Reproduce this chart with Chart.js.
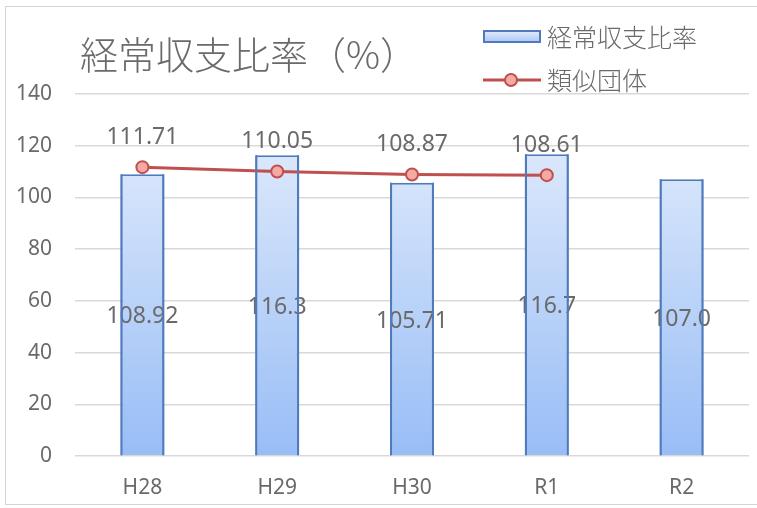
<!DOCTYPE html>
<html>
<head>
  <meta charset="utf-8">
  <script src="https://cdn.jsdelivr.net/npm/chart.js"></script>
  <style>
    html, body { margin: 0; padding: 0; background: #fff; }
    #wrap { position: relative; width: 757px; height: 508px; }
  </style>
</head>
<body>
<div id="wrap"><canvas id="ratioChart"></canvas></div>
<script>
const categories = ['H28', 'H29', 'H30', 'R1', 'R2'];
const ratioValues = [108.92, 116.3, 105.71, 116.7, 107.0];
const ratioText = ['108.92', '116.3', '105.71', '116.7', '107.0'];
const similarValues = [111.71, 110.05, 108.87, 108.61, null];
const yTicks = [0, 20, 40, 60, 80, 100, 120, 140];

const TEXT = '#6a6a6a';
const BAR_EDGE = '#4f7bbd';
const NUM_FONT = '"Noto Sans", "Open Sans", sans-serif';
const JP_FONT = '"Noto Sans CJK JP", sans-serif';

// title, legend, frame and value labels
const decorPlugin = {
  id: 'decor',
  afterDatasetsDraw(chart) {
    const c = chart.ctx;
    const bars = chart.getDatasetMeta(0).data;
    const pts = chart.getDatasetMeta(1).data;
    c.save();
    c.fillStyle = TEXT;
    c.font = '23px ' + NUM_FONT;
    c.textAlign = 'center';
    c.textBaseline = 'middle';
    // bar labels sit in the middle of each bar, side edges stay on top
    bars.forEach((bar, i) => {
      c.fillText(ratioText[i], bar.x, (bar.y + bar.base) / 2 + 2);
    });
    c.strokeStyle = BAR_EDGE;
    c.lineWidth = 2;
    bars.forEach(bar => {
      const h = bar.width / 2 - 1;
      c.beginPath();
      c.moveTo(bar.x - h, bar.y);
      c.lineTo(bar.x - h, bar.base);
      c.moveTo(bar.x + h, bar.y);
      c.lineTo(bar.x + h, bar.base);
      c.stroke();
    });
    pts.forEach((pt, i) => {
      if (similarValues[i] == null) return;
      c.fillText(similarValues[i].toFixed(2), pt.x, pt.y - 30);
    });
    c.restore();
  },
  afterDraw(chart) {
    const c = chart.ctx;
    c.save();
    // frame
    c.strokeStyle = '#d4d4d4';
    c.lineWidth = 1;
    c.strokeRect(5.5, 6.5, 760, 498);

    // title
    c.fillStyle = TEXT;
    c.font = '300 38px ' + JP_FONT;
    c.textAlign = 'left';
    c.textBaseline = 'middle';
    c.fillText('経常収支比率（%）', 80, 55);

    // legend: bars
    const g = c.createLinearGradient(0, 31, 0, 42);
    g.addColorStop(0, '#e2ecfb');
    g.addColorStop(1, '#a9c7f5');
    c.fillStyle = g;
    c.fillRect(484, 31, 56, 11);
    c.strokeStyle = BAR_EDGE;
    c.lineWidth = 2;
    c.strokeRect(484, 31, 56, 11);

    // legend: line
    c.strokeStyle = '#c0504d';
    c.lineWidth = 3;
    c.beginPath();
    c.moveTo(483, 80);
    c.lineTo(541, 80);
    c.stroke();
    c.beginPath();
    c.arc(511, 80, 6, 0, Math.PI * 2);
    c.fillStyle = '#f4aaa4';
    c.fill();
    c.lineWidth = 2;
    c.stroke();

    c.fillStyle = TEXT;
    c.font = '300 25px ' + JP_FONT;
    c.fillText('経常収支比率', 547, 37);
    c.fillText('類似団体', 547, 80);
    c.restore();
  }
};

function barFill(context) {
  const area = context.chart.chartArea;
  if (!area) return '#bcd4f8';
  const g = context.chart.ctx.createLinearGradient(0, area.top, 0, area.bottom);
  g.addColorStop(0, '#e8f0fc');
  g.addColorStop(1, '#98bdf6');
  return g;
}

const chart = new Chart(document.getElementById('ratioChart'), {
  data: {
    labels: categories,
    datasets: [{
      type: 'bar',
      label: '経常収支比率',
      data: ratioValues,
      backgroundColor: barFill,
      borderColor: BAR_EDGE,
      borderWidth: 2,
      borderSkipped: 'bottom',
      categoryPercentage: 1,
      barPercentage: 0.325,
      order: 1
    }, {
      type: 'line',
      label: '類似団体',
      data: similarValues,
      borderColor: '#c0504d',
      borderWidth: 3,
      pointRadius: 6,
      pointBorderWidth: 2,
      pointBackgroundColor: '#f4aaa4',
      pointBorderColor: '#c0504d',
      tension: 0,
      spanGaps: false,
      order: 0
    }]
  },
  options: {
    responsive: true,
    maintainAspectRatio: false,
    animation: false,
    layout: { padding: { top: 94, right: 5, left: 0, bottom: 0 } },
    plugins: {
      legend: { display: false },
      title: { display: false },
      tooltip: { enabled: false }
    },
    scales: {
      x: {
        grid: { display: false, drawTicks: false },
        border: { display: false },
        ticks: {
          color: TEXT,
          font: { family: NUM_FONT, size: 21 },
          padding: 19
        },
        afterFit(scale) { scale.height = 52; }
      },
      y: {
        min: 0,
        max: 140,
        grid: { color: '#d9d9d9', lineWidth: 1.5, drawTicks: false },
        border: { display: false },
        afterBuildTicks(scale) { scale.ticks = yTicks.map(v => ({ value: v })); },
        ticks: {
          color: TEXT,
          font: { family: NUM_FONT, size: 21 },
          padding: 23
        },
        afterFit(scale) { scale.width = 75; }
      }
    }
  },
  plugins: [decorPlugin]
});
</script>
</body>
</html>
